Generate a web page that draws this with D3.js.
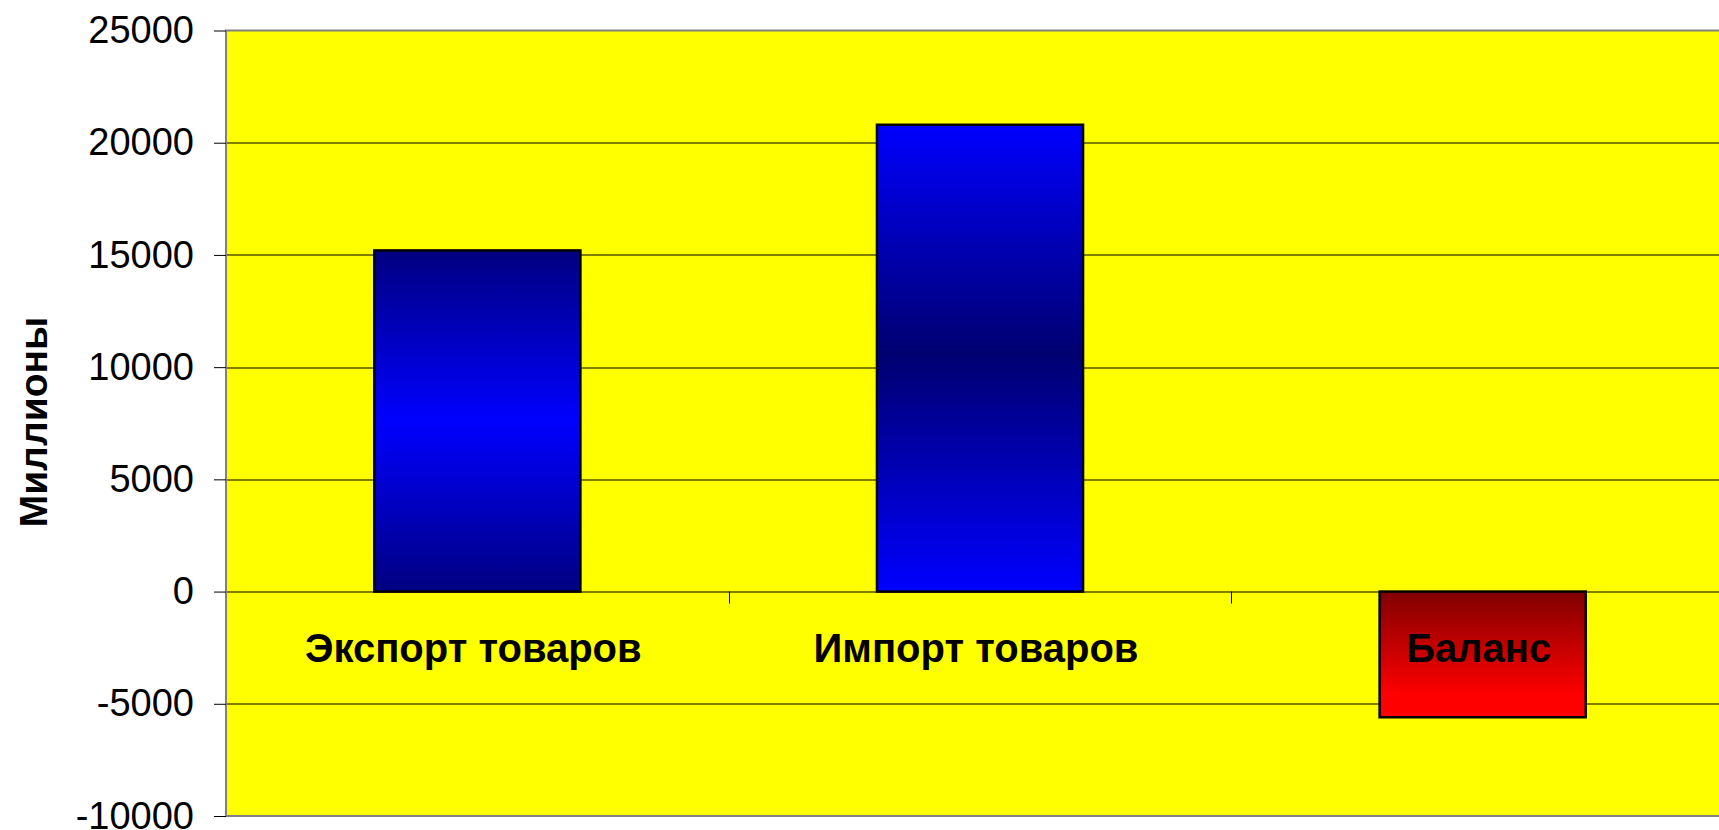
<!DOCTYPE html>
<html>
<head>
<meta charset="utf-8">
<script src="https://cdn.jsdelivr.net/npm/d3@7"></script>
<style>
  body { margin: 0; background: #fff; }
  svg { display: block; font-family: "Liberation Sans", Arial, sans-serif; }
</style>
</head>
<body>
<div id="chart"></div>
<script>
// chart data
var categories = ['Экспорт товаров', 'Импорт товаров', 'Баланс'];
var values = [15200, 20800, -5600];
var yTicks = [-10000, -5000, 0, 5000, 10000, 15000, 20000, 25000];
var yTitle = 'Миллионы';

// size
var svgWidth = 1719;
var svgHeight = 830;
var margin = { top: 30.5, left: 226, bottom: 14 };
var plotWidth = 1508;   // runs past the right edge like the original
var height = svgHeight - margin.top - margin.bottom;

var svg = d3.select('#chart')
  .append('svg')
  .attr('width', svgWidth)
  .attr('height', svgHeight);

// gradients
var defs = svg.append('defs');
function addGradient(id, stops) {
  var g = defs.append('linearGradient')
    .attr('id', id)
    .attr('x1', 0).attr('y1', 0)
    .attr('x2', 0).attr('y2', 1);
  stops.forEach(function (s) {
    g.append('stop').attr('offset', s[0]).attr('stop-color', s[1]);
  });
}
addGradient('gradExport', [[0, '#000080'], [0.5, '#0000ff'], [1, '#000080']]);
addGradient('gradImport', [[0, '#0000ff'], [0.49, '#000070'], [1, '#0000ff']]);
addGradient('gradBalance', [[0, '#800000'], [0.82, '#ff0000'], [1, '#ff0000']]);
var fills = ['url(#gradExport)', 'url(#gradImport)', 'url(#gradBalance)'];

var chartGroup = svg.append('g')
  .attr('transform', `translate(${margin.left}, ${margin.top})`);

// scales
var xScale = d3.scaleBand()
  .domain(categories)
  .range([0, plotWidth])
  .paddingInner(0.59)
  .paddingOuter(0.295);

var yScale = d3.scaleLinear()
  .domain([-10000, 25000])
  .range([height, 0]);

// plot area
chartGroup.append('rect')
  .attr('x', 0)
  .attr('y', 0)
  .attr('width', plotWidth)
  .attr('height', height)
  .attr('fill', '#ffff00')
  .attr('stroke', '#808080')
  .attr('stroke-width', 2);

// gridlines
chartGroup.selectAll('.grid')
  .data(yTicks.filter(d => d > -10000 && d < 25000))
  .enter()
  .append('line')
  .attr('x1', 1)
  .attr('x2', plotWidth)
  .attr('y1', d => Math.round(yScale(d)) + 0.5)
  .attr('y2', d => Math.round(yScale(d)) + 0.5)
  .attr('stroke', '#000')
  .attr('stroke-width', 1);

// category ticks on the zero line
var step = xScale.step();
chartGroup.selectAll('.cattick')
  .data([1, 2, 3])
  .enter()
  .append('line')
  .attr('x1', d => Math.round(d * step) + 0.5)
  .attr('x2', d => Math.round(d * step) + 0.5)
  .attr('y1', yScale(0))
  .attr('y2', yScale(0) + 12)
  .attr('stroke', '#000')
  .attr('stroke-width', 1);

// y axis
var leftAxis = d3.axisLeft(yScale)
  .tickValues(yTicks)
  .tickSize(12)
  .tickPadding(20)
  .tickFormat(d => String(d));

var yAxis = chartGroup.append('g')
  .call(leftAxis);
yAxis.select('.domain').remove();
yAxis.selectAll('text')
  .attr('font-size', '38px')
  .attr('font-family', '"Liberation Sans", Arial, sans-serif')
  .attr('fill', '#000');
yAxis.selectAll('line').attr('stroke', '#000');

// bars
chartGroup.selectAll('.bar')
  .data(values)
  .enter()
  .append('rect')
  .attr('x', (d, i) => xScale(categories[i]))
  .attr('y', d => yScale(Math.max(0, d)))
  .attr('width', xScale.bandwidth())
  .attr('height', d => Math.abs(yScale(d) - yScale(0)))
  .attr('fill', (d, i) => fills[i])
  .attr('stroke', '#000')
  .attr('stroke-width', 2.5);

// category labels
chartGroup.selectAll('.catlabel')
  .data(categories)
  .enter()
  .append('text')
  .attr('x', d => xScale(d) + xScale.bandwidth() / 2 - 4)
  .attr('y', yScale(0) + 70)
  .attr('text-anchor', 'middle')
  .attr('font-size', '40px')
  .attr('font-weight', 'bold')
  .attr('fill', '#000')
  .text(d => d);

// y title
svg.append('text')
  .attr('transform', `translate(47, 422) rotate(-90)`)
  .attr('text-anchor', 'middle')
  .attr('font-size', '39px')
  .attr('font-weight', 'bold')
  .attr('fill', '#000')
  .text(yTitle);
</script>
</body>
</html>
